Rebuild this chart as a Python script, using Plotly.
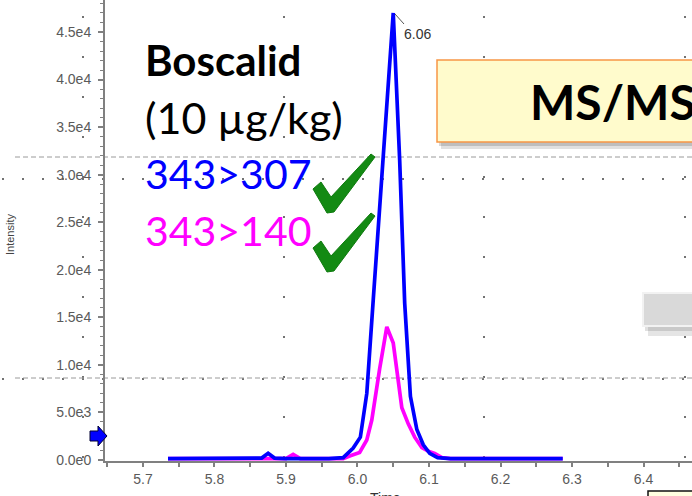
import plotly.graph_objects as go

# ---------------- data ----------------
t_307 = [5.735, 5.75, 5.77, 5.79, 5.81, 5.83, 5.85, 5.866, 5.875, 5.884, 5.90, 5.92, 5.94, 5.96,
         5.980, 5.994, 6.004, 6.013, 6.022, 6.031, 6.040, 6.050, 6.059, 6.066, 6.074, 6.083,
         6.092, 6.101, 6.112, 6.13, 6.15, 6.17, 6.19, 6.21, 6.23, 6.25, 6.27, 6.287]
i_307 = [150, 150, 150, 150, 150, 150, 150, 200, 700, 200, 150, 150, 150, 150,
         250, 1250, 2400, 7000, 16800, 26500, 36200, 47000, 31500, 16500, 6700, 3200,
         1600, 700, 250, 150, 150, 150, 150, 150, 150, 150, 150, 150]

t_140 = [5.735, 5.76, 5.79, 5.82, 5.85, 5.88, 5.90, 5.91, 5.92, 5.95, 5.980, 5.990, 6.003,
         6.013, 6.020, 6.031, 6.041, 6.050, 6.062, 6.071, 6.080, 6.090, 6.100, 6.108,
         6.118, 6.13, 6.16, 6.19, 6.22, 6.25, 6.287]
i_140 = [150, 150, 150, 150, 150, 150, 150, 600, 150, 150, 150, 450, 800,
         2100, 4200, 9600, 14000, 12300, 5500, 3800, 2400, 1300, 900, 700,
         250, 150, 150, 150, 150, 150, 150]

y_tick_vals = [0, 5000, 10000, 15000, 20000, 25000, 30000, 35000, 40000, 45000]
y_tick_labels = ["0.0e0", "5.0e3", "1.0e4", "1.5e4", "2.0e4", "2.5e4", "3.0e4", "3.5e4", "4.0e4", "4.5e4"]

peak_label = "6.06"
title_lines = ["Boscalid", "(10 µg/kg)"]
transitions = ["343>307", "343>140"]
box_text = "MS/MS"

# ---------------- layout helpers ----------------
L, T, W, H = 105, 0, 587, 461


def px(x):
    return (x - L) / W


def py(y):
    return (T + H - y) / H


def poly(points):
    return "M " + " L ".join(f"{px(a):.5f},{py(b):.5f}" for a, b in points) + " Z"


BLUE = "#0000FF"
MAG = "#FF00FF"
GRAY_TXT = "#5a5a5a"
AX = "#808080"

fig = go.Figure()
fig.add_trace(go.Scatter(x=t_140, y=i_140, mode="lines",
                         line=dict(color=MAG, width=3.7), showlegend=False, hoverinfo="skip"))
fig.add_trace(go.Scatter(x=t_307, y=i_307, mode="lines",
                         line=dict(color=BLUE, width=3.7), showlegend=False, hoverinfo="skip"))

shapes = []
# sparse dotted grid (slide grid)
for xc in [83, 284, 484, 685]:
    shapes.append(dict(type="line", xref="paper", yref="paper", x0=px(xc), x1=px(xc),
                       y0=py(16), y1=py(500), layer="below",
                       line=dict(color="#444444", width=1.5, dash="2px,38px")))
for yr in [179, 379]:
    shapes.append(dict(type="line", xref="paper", yref="paper", x0=px(2), x1=px(700),
                       y0=py(yr), y1=py(yr), layer="below",
                       line=dict(color="#444444", width=1.5, dash="2px,18px")))
# dashed guides
for yg in [157, 378]:
    shapes.append(dict(type="line", xref="paper", yref="paper", x0=px(15), x1=px(700),
                       y0=py(yg), y1=py(yg), layer="below",
                       line=dict(color="#9a9a9a", width=1, dash="5px,3px")))
# blue marker arrow on y axis
shapes.append(dict(type="path", xref="paper", yref="paper",
                   path=poly([(90, 431), (98, 431), (98, 426), (107, 436), (98, 446), (98, 441), (90, 441)]),
                   fillcolor=BLUE, line=dict(color="#000033", width=1)))
# check marks
for dy in [0, 59]:
    pts = [(313, 189 + dy), (321, 182 + dy), (331, 197 + dy), (371, 154 + dy),
           (375, 157 + dy), (334, 212 + dy), (327, 213 + dy)]
    shapes.append(dict(type="path", xref="paper", yref="paper", path=poly(pts),
                       fillcolor="#138a13", line=dict(color="#0f7a0f", width=1)))
# MS/MS box with shadow
shapes.append(dict(type="rect", xref="paper", yref="paper", x0=px(441), x1=px(730),
                   y0=py(66), y1=py(149), fillcolor="rgba(0,0,0,0.12)", line=dict(width=0)))
shapes.append(dict(type="rect", xref="paper", yref="paper", x0=px(439), x1=px(730),
                   y0=py(63), y1=py(146), fillcolor="rgba(0,0,0,0.15)", line=dict(width=0)))
shapes.append(dict(type="rect", xref="paper", yref="paper", x0=px(437), x1=px(730),
                   y0=py(60), y1=py(142), fillcolor="#FFFBCC", line=dict(color="#F79646", width=1.5)))
# gray box with shadow
shapes.append(dict(type="rect", xref="paper", yref="paper", x0=px(648), x1=px(730),
                   y0=py(300), y1=py(336), fillcolor="rgba(0,0,0,0.10)", line=dict(width=0)))
shapes.append(dict(type="rect", xref="paper", yref="paper", x0=px(645), x1=px(730),
                   y0=py(297), y1=py(331), fillcolor="rgba(0,0,0,0.12)", line=dict(width=0)))
shapes.append(dict(type="rect", xref="paper", yref="paper", x0=px(643), x1=px(730),
                   y0=py(293), y1=py(326), fillcolor="#D9D9D9", line=dict(color="#F2F2F2", width=2)))
# bottom-right box (cut off)
shapes.append(dict(type="rect", xref="paper", yref="paper", x0=px(648), x1=px(730),
                   y0=py(491), y1=py(530), fillcolor="#FFFFE0", line=dict(color="#111111", width=1.5)))
# peak label leader
shapes.append(dict(type="line", xref="paper", yref="paper", x0=px(395), x1=px(404),
                   y0=py(14), y1=py(24), line=dict(color="#555555", width=1)))

annotations = [
    dict(text="<b>" + title_lines[0] + "</b>", x=px(143), y=py(60), font=dict(family="Lato", size=42, color="black")),
    dict(text=title_lines[1], x=px(143), y=py(117), font=dict(family="Lato", size=43, color="black")),
    dict(text=transitions[0], x=px(143), y=py(173), font=dict(family="Lato", size=41, color=BLUE)),
    dict(text=transitions[1], x=px(143), y=py(230), font=dict(family="Lato", size=41, color=MAG)),
    dict(text="<b>" + box_text + "</b>", x=px(528), y=py(101), font=dict(family="Lato", size=48, color="black")),
    dict(text=peak_label, x=px(402), y=py(34), font=dict(family="Liberation Sans", size=14, color="#333333")),
    dict(text="Intensity", x=px(10), y=py(235), xanchor="center", textangle=-90,
         font=dict(family="Liberation Sans", size=11, color="#444444")),
    dict(text="Time", x=px(368), y=py(488), yanchor="top", font=dict(family="Liberation Sans", size=14, color="#333333")),
]
for a in annotations:
    a.setdefault("xref", "paper")
    a.setdefault("yref", "paper")
    a.setdefault("xanchor", "left")
    a.setdefault("yanchor", "middle")
    a["showarrow"] = False

tickfont = dict(family="Liberation Sans, Arial", size=14, color=GRAY_TXT)
fig.update_layout(
    width=692, height=496, autosize=False,
    margin=dict(l=L, r=0, t=T, b=496 - T - H, pad=0),
    paper_bgcolor="white", plot_bgcolor="white",
    shapes=shapes, annotations=annotations,
    xaxis=dict(range=[5.6469, 6.4678], tick0=5.7, dtick=0.1, tickformat=".1f",
               showgrid=False, zeroline=False, showline=True, linecolor=AX, linewidth=2,
               ticks="outside", ticklen=4, tickcolor=AX, tickwidth=1.5, tickfont=tickfont,
               minor=dict(dtick=0.05, tick0=5.65, ticks="outside", ticklen=4, tickcolor=AX, tickwidth=1.5)),
    yaxis=dict(range=[-105, 48364], tickvals=y_tick_vals, ticktext=y_tick_labels,
               showgrid=False, zeroline=False, showline=True, linecolor=AX, linewidth=2,
               ticks="outside", ticklen=5, tickcolor=AX, tickwidth=1.5, tickfont=tickfont,
               ticklabelstandoff=4,
               minor=dict(dtick=1000, tick0=0, ticks="outside", ticklen=3, tickcolor=AX, tickwidth=1)),
)

fig.write_html("out.html")
